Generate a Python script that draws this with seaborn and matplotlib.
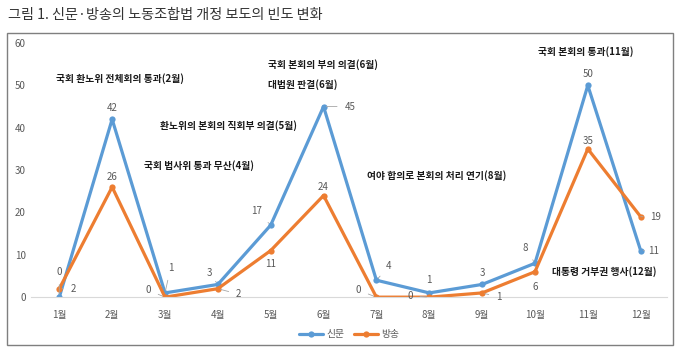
import matplotlib
matplotlib.use("Agg")
import matplotlib.pyplot as plt
import seaborn as sns
import pandas as pd
from matplotlib.patches import Rectangle

months = ["1월", "2월", "3월", "4월", "5월", "6월", "7월", "8월", "9월", "10월", "11월", "12월"]
newspaper = [0, 42, 1, 3, 17, 45, 4, 1, 3, 8, 50, 11]
broadcast = [2, 26, 0, 2, 11, 24, 0, 0, 1, 6, 35, 19]
series_names = ["신문", "방송"]
y_ticks = [0, 10, 20, 30, 40, 50, 60]
title = "그림 1. 신문·방송의 노동조합법 개정 보도의 빈도 변화"

events = [
    ("국회 환노위 전체회의 통과(2월)", 1.15, 51.5, "center"),
    ("국회 본회의 부의 의결(6월)", 3.95, 54.8, "left"),
    ("대법원 판결(6월)", 3.95, 50.1, "left"),
    ("환노위의 본회의 직회부 의결(5월)", 1.9, 40.6, "left"),
    ("국회 법사위 통과 무산(4월)", 1.6, 31.0, "left"),
    ("여야 합의로 본회의 처리 연기(8월)", 5.83, 28.8, "left"),
    ("국회 본회의 통과(11월)", 9.05, 57.9, "left"),
    ("대통령 거부권 행사(12월)", 9.32, 6.1, "left"),
]

# label offsets (points) for data labels
nl_off = [(0, 18, True), (0, 8, False), (4, 18, True), (-6, 8, True), (-10, 10, True),
          (19, 0, True), (9, 10, True), (0, 9, False), (0, 8, False), (-7, 11, True),
          (0, 8, False), (9, 0, True)]
bc_off = [(10, 0, True), (0, 7, False), (-12, 5, True), (15, -4, True), (0, -10, False),
          (0, 6, False), (-13, 5, True), (-14, 1, True), (12, -3, True), (0, -11, True),
          (0, 6, False), (11, 0, True)]

sns.set_theme(style="white")
plt.rcParams["font.family"] = ["Noto Sans CJK KR", "DejaVu Sans"]

df = pd.DataFrame({
    "month": months * 2,
    "x": list(range(len(months))) * 2,
    "value": newspaper + broadcast,
    "series": [series_names[0]] * len(months) + [series_names[1]] * len(months),
})

fig = plt.figure(figsize=(6.8, 3.5), dpi=100)
ax = fig.add_axes([0.046, 0.151, 0.935, 0.726])

colors = {"신문": "#5B9BD5", "방송": "#ED7D31"}
sns.lineplot(data=df, x="x", y="value", hue="series", hue_order=series_names,
             palette=colors, marker="o", markersize=4.5, markeredgewidth=0,
             linewidth=2.3, ax=ax, sort=False, legend=True)

ax.set_xlim(-0.53, 11.5)
ax.set_ylim(0, 60)
ax.set_yticks(y_ticks)
ax.set_xticks(range(len(months)))
ax.set_xticklabels(months)
ax.tick_params(axis="both", length=0, labelsize=7, colors="#595959")
ax.tick_params(axis="x", pad=9)
ax.tick_params(axis="y", pad=4)
ax.set_xlabel("")
ax.set_ylabel("")
for s in ["top", "right", "left"]:
    ax.spines[s].set_visible(False)
ax.spines["bottom"].set_color("#D9D9D9")
ax.spines["bottom"].set_linewidth(0.8)
ax.grid(False)
ax.set_clip_on(False)

lab_color = "#595959"
for vals, offs in ((newspaper, nl_off), (broadcast, bc_off)):
    for i, (v, (dx, dy, lead)) in enumerate(zip(vals, offs)):
        kw = {}
        if lead:
            kw["arrowprops"] = dict(arrowstyle="-", color="#A6A6A6", lw=0.6,
                                    shrinkA=3, shrinkB=2)
        ax.annotate(str(v), xy=(i, v), xytext=(dx, dy), textcoords="offset points",
                    ha="center", va="center", fontsize=7, color=lab_color,
                    annotation_clip=False, **kw)

for txt, x, y, ha in events:
    ax.text(x, y, txt, ha=ha, va="center", fontsize=7, fontweight="bold", color="#1a1a1a")

leg = ax.legend(loc="center", bbox_to_anchor=(0.5, -0.145), ncol=2, frameon=False,
                fontsize=7, handlelength=2.5, columnspacing=1.0, handletextpad=0.3)
for t in leg.get_texts():
    t.set_color("#595959")

fig.patches.append(Rectangle((7 / 680, 5 / 350), 666 / 680, 312 / 350,
                             transform=fig.transFigure, fill=False,
                             edgecolor="#7F7F7F", linewidth=1.0))
fig.text(8 / 680, 1 - 15 / 350, title, ha="left", va="center", fontsize=10.2, color="#333333")

fig.savefig("out.png", dpi=100)
